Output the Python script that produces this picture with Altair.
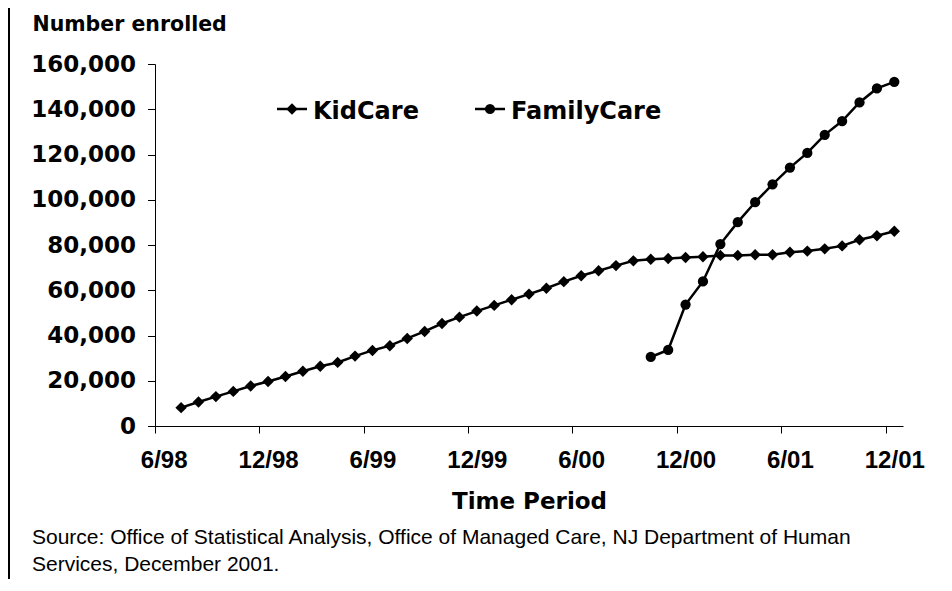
import json
import altair as alt
import pandas as pd

# ---------------- data ----------------
kid_months = [
    "7/98", "8/98", "9/98", "10/98", "11/98", "12/98",
    "1/99", "2/99", "3/99", "4/99", "5/99", "6/99", "7/99", "8/99", "9/99", "10/99", "11/99", "12/99",
    "1/00", "2/00", "3/00", "4/00", "5/00", "6/00", "7/00", "8/00", "9/00", "10/00", "11/00", "12/00",
    "1/01", "2/01", "3/01", "4/01", "5/01", "6/01", "7/01", "8/01", "9/01", "10/01", "11/01", "12/01",
]
kidcare = [
    8100, 10600, 13000, 15300, 17700, 19700,
    21900, 24200, 26400, 28100, 30900, 33400, 35500, 38700, 41800, 45300, 48100, 50800,
    53300, 55800, 58300, 60900, 63800, 66400, 68600, 70900, 73000, 73700, 74000, 74500,
    74800, 75400, 75400, 75700, 75700, 76800, 77300, 78300, 79600, 82300, 84100, 86100,
]
family_months = [
    "10/00", "11/00", "12/00",
    "1/01", "2/01", "3/01", "4/01", "5/01", "6/01", "7/01", "8/01", "9/01", "10/01", "11/01", "12/01",
]
familycare = [
    30500, 33600, 53700,
    63900, 80400, 90100, 98900, 106800, 114200, 120700, 128700, 134800, 143000, 149200, 152100,
]
series_names = ["KidCare", "FamilyCare"]
x_tick_labels = ["6/98", "12/98", "6/99", "12/99", "6/00", "12/00", "6/01", "12/01"]
y_ticks = [0, 20000, 40000, 60000, 80000, 100000, 120000, 140000, 160000]
source_lines = [
    "Source: Office of Statistical Analysis, Office of Managed Care, NJ Department of Human",
    "Services, December 2001.",
]


def month_index(s):
    m, y = s.split("/")
    y = int(y)
    if y < 50:
        y += 100
    return (y - 98) * 12 + int(m) - 6


kid_df = pd.DataFrame({"month": kid_months,
                       "t": [month_index(m) for m in kid_months],
                       "value": kidcare})
fam_df = pd.DataFrame({"month": family_months,
                       "t": [month_index(m) for m in family_months],
                       "value": familycare})

n_cat = len(kid_months) + 1
label_pos = [6 * k for k in range(len(x_tick_labels))]
tick_pos = [6 * k - 0.5 for k in range(len(x_tick_labels))]
xscale = alt.Scale(domain=[-0.5, n_cat - 0.5], nice=False, zero=False)
yscale = alt.Scale(domain=[0, 160000], nice=False)

BOLD_FONT = "DejaVu Sans"
DIAMOND_SIZE = 130
CIRCLE_SIZE = 105

# ---------------- layers ----------------
kid = alt.Chart(kid_df).mark_line(
    color="black", strokeWidth=2.5,
    point=alt.OverlayMarkDef(shape="diamond", size=DIAMOND_SIZE, filled=True, color="black", opacity=1),
).encode(
    x=alt.X("t:Q", scale=xscale, axis=alt.Axis(
        values=tick_pos, labels=False, ticks=True, tickSize=7, tickColor="black",
        domainColor="black", domainWidth=1, grid=False, title=None, orient="bottom")),
    y=alt.Y("value:Q", scale=yscale, axis=alt.Axis(
        values=y_ticks, format=",d", labelFont=BOLD_FONT, labelFontWeight="bold",
        labelFontSize=23, labelColor="black", labelPadding=12, tickSize=7.5,
        tickColor="black", domainColor="black", grid=False, orient="left",
        title="Number enrolled", titleAngle=0, titleX=-123, titleY=-33.6,
        titleAlign="left", titleBaseline="alphabetic", titleFont=BOLD_FONT,
        titleFontSize=20.5, titleFontWeight="bold", titleColor="black")),
)

fam = alt.Chart(fam_df).mark_line(
    color="black", strokeWidth=2.5,
    point=alt.OverlayMarkDef(shape="circle", size=CIRCLE_SIZE, filled=True, color="black", opacity=1),
).encode(
    x=alt.X("t:Q", scale=xscale, axis=None),
    y=alt.Y("value:Q", scale=yscale, axis=None),
)

label_expr = json.dumps(x_tick_labels) + "[round(datum.value / 6)]"
xlabels = alt.Chart(kid_df).mark_point(opacity=0).encode(
    x=alt.X("t:Q", scale=xscale, axis=alt.Axis(
        values=label_pos, labelExpr=label_expr, ticks=False, tickSize=0, domain=False,
        grid=False, labelFont="Liberation Sans", labelFontWeight="bold",
        labelFontSize=24, labelColor="black", labelBaseline="alphabetic",
        labelPadding=41, labelFlush=False, labelOverlap=False, labelBound=False,
        title="Time Period", titleFont=BOLD_FONT, titleFontWeight="bold",
        titleFontSize=23, titleColor="black", titleBaseline="alphabetic",
        titleY=82.5, orient="bottom")),
    y=alt.Y("value:Q", scale=yscale, axis=None),
)

# custom legend
legend_layers = []
legend_specs = [("diamond", DIAMOND_SIZE, 122), ("circle", CIRCLE_SIZE, 320)]
for name, (shape, size, lx) in zip(series_names, legend_specs):
    d = alt.Data(values=[{"name": name}])
    legend_layers.append(alt.Chart(d).mark_rule(color="black", strokeWidth=2.5).encode(
        x=alt.value(lx), x2=alt.value(lx + 30), y=alt.value(45)))
    legend_layers.append(alt.Chart(d).mark_point(
        shape=shape, size=size, filled=True, color="black", opacity=1).encode(
        x=alt.value(lx + 15), y=alt.value(45)))
    legend_layers.append(alt.Chart(d).mark_text(
        align="left", baseline="alphabetic", font=BOLD_FONT, fontWeight="bold",
        fontSize=24, color="black").encode(
        x=alt.value(lx + 36), y=alt.value(55), text=alt.Text("name:N")))

# source note
source_layers = []
for i, line in enumerate(source_lines):
    d = alt.Data(values=[{"line": line}])
    source_layers.append(alt.Chart(d).mark_text(
        align="left", baseline="alphabetic", font="Liberation Sans",
        fontSize=21, color="black").encode(
        x=alt.value(-123), y=alt.value(480 + 27 * i), text=alt.Text("line:N")))

# left frame border
border = alt.Chart(alt.Data(values=[{"a": 1}])).mark_rule(color="black", strokeWidth=2).encode(
    x=alt.value(-146), y=alt.value(-70), y2=alt.value(540))

chart = alt.layer(
    kid, fam, xlabels, *legend_layers, *source_layers, border
).resolve_axis(
    x="independent", y="independent"
).properties(
    width=748, height=362,
    autosize=alt.AutoSizeParams(type="none"),
    padding={"left": 147, "top": 56, "right": 41, "bottom": 153},
    background="white",
).configure_view(strokeWidth=0)

chart.save("out.html", embed_options={"renderer": "svg", "actions": False})
